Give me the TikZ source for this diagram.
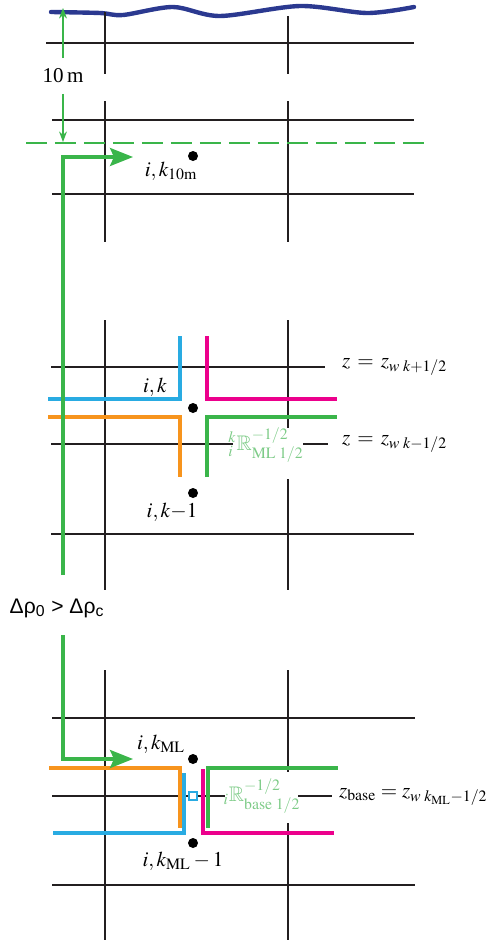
\documentclass[tikz,border=0pt]{standalone}
\usepackage{mathptmx}
\usepackage{amsmath,amssymb}
\usepackage{fontspec}
\setmainfont{Liberation Serif}
\newfontfamily\greeksans{Liberation Sans}
\usetikzlibrary{arrows.meta,positioning,calc}
\definecolor{seablue}{HTML}{2B3990}
\definecolor{flowgreen}{HTML}{3AB54A}
\definecolor{paleGreen}{HTML}{7DCB87}
\definecolor{cellcyan}{HTML}{29ABE2}
\definecolor{cellmagenta}{HTML}{EC008C}
\definecolor{cellorange}{HTML}{F7941D}
\definecolor{gridink}{HTML}{231F20}

\begin{document}
\begin{tikzpicture}[
  x=0.02cm, y=-0.02cm,
  gridline/.style={line width=0.85pt, gridink},
  cellline/.style={line width=1.8pt, line join=miter},
  flowarr/.style={line width=1.9pt, flowgreen, line join=miter,
                  -{Stealth[length=0.46cm, width=0.36cm, inset=0.08cm]}},
  dimarr/.style={line width=0.7pt, flowgreen, -{Stealth[length=6pt, width=4.5pt]}},
  celldot/.style={circle, fill=black, inner sep=0pt, minimum size=0.2cm},
  lbl/.style={font=\fontsize{12}{14}\selectfont, inner sep=1pt},
  rlbl/.style={lbl, text=paleGreen},
]
\useasboundingbox (0,0) rectangle (486,940);

% Sea surface
\draw[seablue, line width=2.5pt, line cap=round]
  plot[smooth] coordinates {(51,12) (100,13) (123,15) (173,7) (220,16) (300,6) (367,13) (414,7)};

% Grid, upper part
\draw[gridline] (105,12) -- (105,74) (288,16) -- (288,74);
\draw[gridline] (105,101) -- (105,242) (288,101) -- (288,242);
\draw[gridline] (46,43) -- (414,43);
\draw[gridline] (52,120) -- (414,120);
\draw[gridline] (52,194) -- (414,194);
\draw[flowgreen, line width=1.1pt, dash pattern=on 0.42cm off 0.16cm] (26,143) -- (428,143);

% Grid, middle part
\draw[gridline] (105,320) -- (105,590) (288,320) -- (288,428) (288,479) -- (288,590);
\draw[gridline] (51,367) -- (325,367);
\draw[gridline] (51,444) -- (233,444) (303,444) -- (328,444);
\draw[gridline] (51,534) -- (414,534);

% Grid, lower part
\draw[gridline] (105,670) -- (105,940) (288,670) -- (288,772) (288,823) -- (288,940);
\draw[gridline] (52,718) -- (415,718);
\draw[gridline] (52,796) -- (225,796) (298,796) -- (332,796);
\draw[gridline] (52,885) -- (415,885);

% 10 m depth
\node[lbl, minimum height=0.7cm] (tenm) at (63,76) {10\,m};
\coordinate (surf) at (63,8);
\coordinate (depth) at (63,142);
\draw[dimarr] (tenm.north) -- (surf);
\draw[dimarr] (tenm.south) -- (depth);

% Cells at k
\draw[cellline, cellcyan] (48,399) -- (180,399) -- (180,336);
\draw[cellline, cellmagenta] (207,336) -- (207,399) -- (337,399);
\draw[cellline, cellorange] (48,417) -- (180,417) -- (180,477);
\draw[cellline, flowgreen] (207,477) -- (207,417) -- (337,417);

% Cells at k_ML
\draw[cellline, cellorange] (49,768) -- (180,768) -- (180,828);
\draw[cellline, cellcyan] (53,833) -- (184,833) -- (184,773);
\draw[cellline, cellmagenta] (203,769) -- (203,833) -- (334,833);
\draw[cellline, flowgreen] (208,828) -- (208,768) -- (338,768);

% Cell centres
\node[celldot] (c10m) at (193,156) {};
\node[celldot] (ck) at (193,408) {};
\node[celldot] (ckm) at (193,493) {};
\node[celldot] (cml) at (193,759) {};
\node[celldot] (cmlm) at (193,843) {};
\node[draw=cellcyan, fill=white, line width=1pt, inner sep=0pt, minimum size=0.16cm] (zb) at (193,796) {};

% Descent path
\coordinate (start) at (63,157);
\coordinate (stop) at (63,575);
\coordinate (resume) at (63,635);
\coordinate (toml) at (63,759);
\draw[flowarr] (stop) -- (start) -- (133,157);
\draw[flowarr] (resume) -- (toml) -- (133,759);
\node[lbl, font=\greeksans\fontsize{12}{14}\selectfont] (crit) at (57,608)
  {Δρ\textsubscript{0} > Δρ\textsubscript{c}};

% Labels
\node[lbl] (l10m) at (171,171) {$i,k_{\mathrm{10m}}$};
\node[lbl] (lk) at (155,387) {$i,k$};
\node[lbl] (lkm) at (172,512) {$i,k{-}1$};
\node[lbl, anchor=west] (zup) at (340,367) {$z\,=\,z_{w\;k+1/2}$};
\node[lbl, anchor=west] (zdown) at (340,444) {$z\,=\,z_{w\;k-1/2}$};
\node[rlbl] (rml) at (266,445) {${}^{k}_{i}\mathbb{R}^{-1/2}_{\mathrm{ML}\;1/2}$};
\node[lbl] (lml) at (161,744) {$i,k_{\mathrm{ML}}$};
\node[lbl] (lmlm) at (183,861) {$i,k_{\mathrm{ML}}-1$};
\node[rlbl] (rbase) at (262,796) {${}_{i}\mathbb{R}^{-1/2}_{\mathrm{base}\;1/2}$};
\node[lbl, anchor=west] (zbase) at (337,797) {$z_{\mathrm{base}} = z_{w\;k_{\mathrm{ML}}-1/2}$};

\end{tikzpicture}
\end{document}
